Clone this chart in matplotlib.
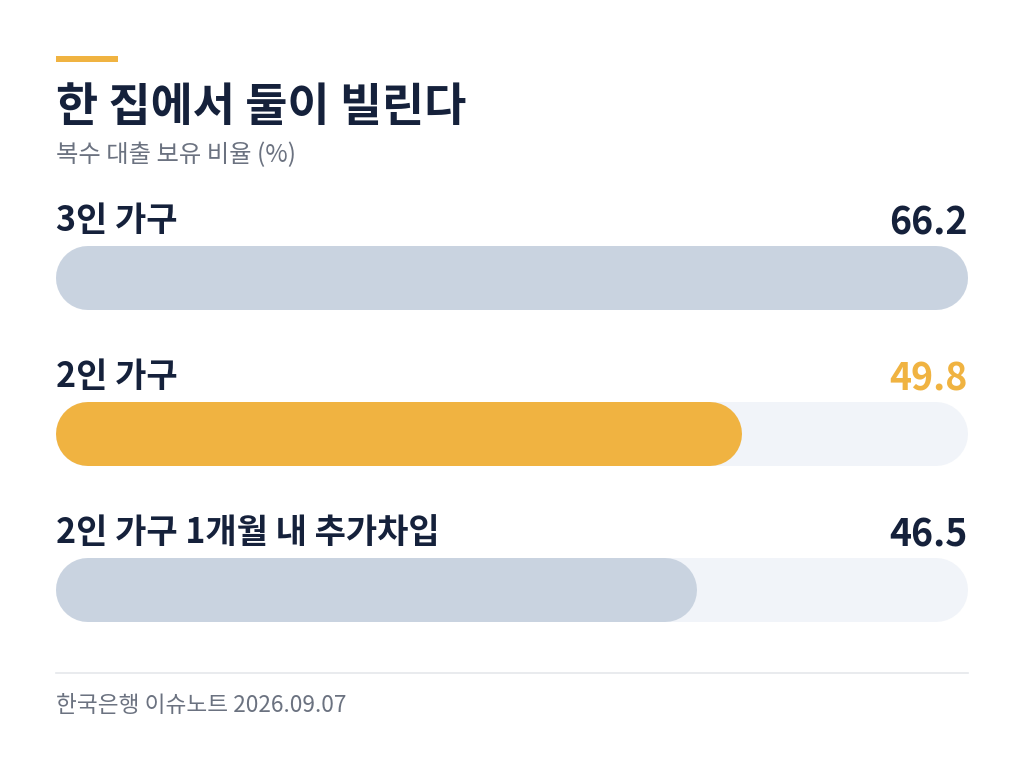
import matplotlib
matplotlib.use('Agg')
import matplotlib.pyplot as plt
from matplotlib.patches import Rectangle

plt.rcParams['font.family'] = ['Noto Sans CJK KR', 'DejaVu Sans']

# data
title = '한 집에서 둘이 빌린다'
subtitle = '복수 대출 보유 비율 (%)'
source = '한국은행 이슈노트 2026.09.07'
categories = ['3인 가구', '2인 가구', '2인 가구 1개월 내 추가차입']
values = [66.2, 49.8, 46.5]
highlight = [False, True, False]

navy = '#15213B'
gray = '#6B7280'
orange = '#F0B341'
fill = '#C9D3E0'
track = '#F1F4F9'

W, H = 1024, 773
fig = plt.figure(figsize=(W / 100, H / 100), dpi=100)
fig.patch.set_facecolor('white')

# text layer in pixel units
tx = fig.add_axes([0, 0, 1, 1])
tx.set_xlim(0, W)
tx.set_ylim(H, 0)
tx.axis('off')

tx.add_patch(Rectangle((56, 56), 62, 6, color=orange, lw=0))
tx.text(56, 108, title, fontsize=33, fontweight='bold', color=navy, va='center', ha='left')
tx.text(56, 155, subtitle, fontsize=17.5, color=gray, va='center', ha='left')
tx.plot([56, 968], [673, 673], color='#E5E7EB', lw=1.2)
tx.text(56, 706, source, fontsize=16.3, color=gray, va='center', ha='left')

# bar layer: x in value units, y in pixels
left, right = 56, 968
top, bottom = 190, 640
bx = fig.add_axes([left / W, 1 - bottom / H, (right - left) / W, (bottom - top) / H])
vmax = max(values)
bx.set_xlim(0, vmax)
bx.set_ylim(bottom, top)
bx.axis('off')

bar_h = 64
lw_pt = bar_h * 72 / 100
r = (bar_h / 2) * vmax / (right - left)  # cap radius in value units
for i, (cat, v, hl) in enumerate(zip(categories, values, highlight)):
    yc = 278 + i * 156
    bx.plot([r, vmax - r], [yc, yc], color=track, lw=lw_pt,
            solid_capstyle='round', clip_on=False)
    bx.plot([r, v - r], [yc, yc], color=orange if hl else fill, lw=lw_pt,
            solid_capstyle='round', clip_on=False)
    bx.text(0, yc - 57, cat, fontsize=24.5, fontweight='bold', color=navy,
            va='center', ha='left')
    bx.text(vmax, yc - 55, '%.1f' % v, fontsize=27, fontweight='bold',
            color=orange if hl else navy, va='center', ha='right')

fig.savefig('out.png', dpi=100, facecolor='white')
